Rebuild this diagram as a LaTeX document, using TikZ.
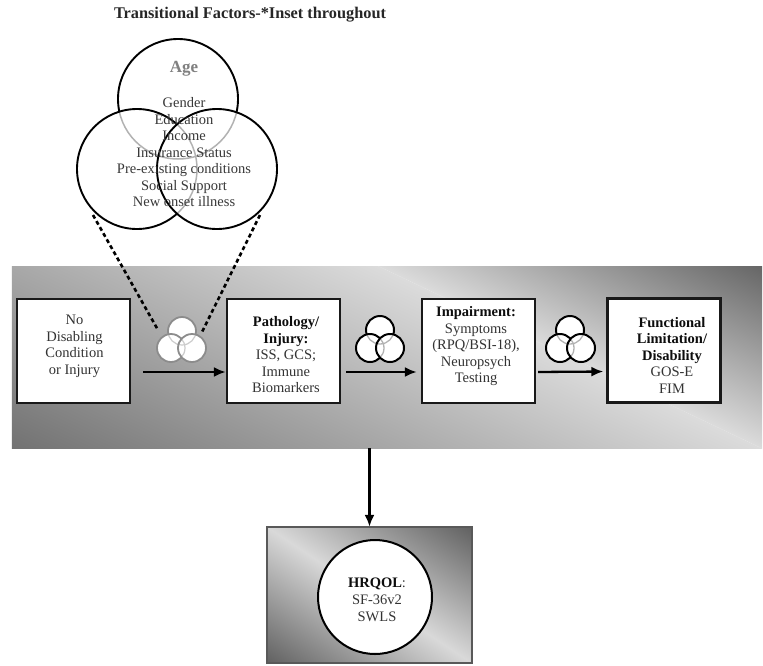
\documentclass[tikz,border=0pt]{standalone}
\usepackage{fontspec}
\setmainfont{Liberation Serif}
\usetikzlibrary{arrows.meta}
\definecolor{txt}{gray}{0.2}
\definecolor{txtb}{gray}{0.05}
\definecolor{agecol}{gray}{0.5}
\definecolor{bandlt}{gray}{0.86}
\definecolor{banddka}{gray}{0.3}
\definecolor{banddkb}{gray}{0.32}
\definecolor{hqlt}{gray}{0.85}
\definecolor{hqdk}{gray}{0.33}
\newcommand\vennthree[8]{%
  \draw[#8out,#8fill] (#1,#2) circle[radius=#7];
  \fill[#8fill] (#3,#4) circle[radius=#7];
  \begin{scope}\clip (#3,#4) circle[radius=#7];
    \draw[#8in] (#1,#2) circle[radius=#7];\end{scope}
  \draw[#8out] (#3,#4) circle[radius=#7];
  \fill[#8fill] (#5,#6) circle[radius=#7];
  \begin{scope}\clip (#5,#6) circle[radius=#7];
    \draw[#8in] (#1,#2) circle[radius=#7];
    \draw[#8in] (#3,#4) circle[radius=#7];\end{scope}
  \draw[#8out] (#5,#6) circle[radius=#7];
}
\begin{document}
\begin{tikzpicture}[x=1pt,y=-1pt,
  box/.style={draw=black!90, line width=2.3pt, fill=white, minimum width=113pt, minimum height=104pt, inner sep=0pt},
  lbl/.style={font=\fontsize{14.5}{16.5}\selectfont, text=txt, align=center, inner sep=0pt},
  arr/.style={line width=2.3pt, -{Latex[length=12pt,width=10pt]}},
  dashline/.style={line width=2.6pt, dash pattern=on 4pt off 3pt},
  bigout/.style={draw=black, line width=1.9pt},
  bigin/.style={draw=black!30, line width=1.5pt},
  bigfill/.style={fill=white},
  darkout/.style={draw=black, line width=2pt},
  darkin/.style={draw=black!30, line width=1.3pt},
  darkfill/.style={fill=white},
  lightout/.style={draw=black!45, line width=1.8pt},
  lightin/.style={draw=black!20, line width=1.2pt},
  lightfill/.style={fill=white},
]
\useasboundingbox[fill=white] (0,0) rectangle (763,665);

% title
\node[font=\fontsize{16.3}{18}\selectfont\bfseries, text=black!85, inner sep=0] (title) at (250,15) {Transitional Factors-*Inset throughout};

% big venn
\vennthree{178}{99}{137}{169}{217}{169}{60}{big}
\node[font=\fontsize{17}{19}\selectfont\bfseries, text=agecol, inner sep=0] (age) at (184,69) {Age};
\node[lbl, text=black!78] (factors) at (184,152.5) {Gender\\Education\\Income\\Insurance Status\\Pre-existing conditions\\Social Support\\New onset illness};

% band
\node[inner sep=0, minimum width=750pt, minimum height=181pt] (band) at (387,357.5) {};
\begin{scope}
\clip (band.north west) rectangle (band.south east);
\begin{scope}[transform canvas={shift={(380,267)}, rotate=-25.4}]
\shade[top color=banddka, bottom color=bandlt] (-900,-200) rectangle (900,0);
\shade[top color=bandlt, bottom color=banddkb] (-900,0) rectangle (900,420);
\end{scope}
\end{scope}

% dashed lines
\coordinate (da1) at (93,215);
\coordinate (da2) at (158,330);
\coordinate (db1) at (260,215);
\coordinate (db2) at (202,332);
\draw[dashline] (da1) -- (da2);
\draw[dashline] (db1) -- (db2);

% small venns
\vennthree{182}{331}{171}{348}{192}{348}{14}{light}
\vennthree{380}{330}{370}{348}{390}{348}{14}{dark}
\vennthree{570}{330}{560}{348}{581}{348}{14}{dark}

% boxes
\node[box] (b1) at (73.5,351) {};
\node[box] (b2) at (283.5,351) {};
\node[box] (b3) at (478.5,351) {};
\node[box] (b4) at (664,350.5) {};
\node[lbl] (t1) at (74.5,346.5) {No\\Disabling\\Condition\\or Injury};
\node[lbl] (t2) at (286,355) {\textbf{\color{txtb}Pathology/}\\\textbf{\color{txtb}Injury:}\\ISS, GCS;\\Immune\\Biomarkers};
\node[lbl] (t3) at (476,346.5) {\textbf{\color{txtb}Impairment:}\\Symptoms\\(RPQ/BSI-18),\\Neuropsych\\Testing};
\node[lbl] (t4) at (672,355) {\textbf{\color{txtb}Functional}\\\textbf{\color{txtb}Limitation/}\\\textbf{\color{txtb}Disability}\\GOS-E\\FIM};

% arrows
\draw[arr, shorten <=12pt] ([yshift=-21pt]b1.east) -- ([yshift=-21pt]b2.west);
\draw[arr, shorten <=5pt, shorten >=4pt] ([yshift=-21pt]b2.east) -- ([yshift=-21pt]b3.west);
\draw[arr, shorten <=2pt, shorten >=3pt] ([yshift=-21pt]b3.east) -- ([yshift=-21pt]b4.west);

% HRQOL
\node[inner sep=0, minimum width=205pt, minimum height=136pt] (hq) at (369.5,595) {};
\draw[arr] (band.south -| hq.north) -- (hq.north);
\begin{scope}
\clip (hq.north west) rectangle (hq.south east);
\begin{scope}[transform canvas={shift={(369.5,595)}, rotate=-33.6}]
\shade[top color=hqdk, bottom color=hqdk, middle color=hqlt] (-400,-125) rectangle (400,125);
\end{scope}
\end{scope}
\draw[draw=black!65, line width=1.6pt] (hq.north west) rectangle (hq.south east);
\node[circle, draw=black, line width=2pt, fill=white, minimum size=114pt, inner sep=0] (hc) at (375,597) {};
\node[lbl, font=\fontsize{14.5}{17}\selectfont] (ht) at (377,600) {\textbf{\color{txtb}HRQOL}:\\SF-36v2\\SWLS};
\end{tikzpicture}
\end{document}
